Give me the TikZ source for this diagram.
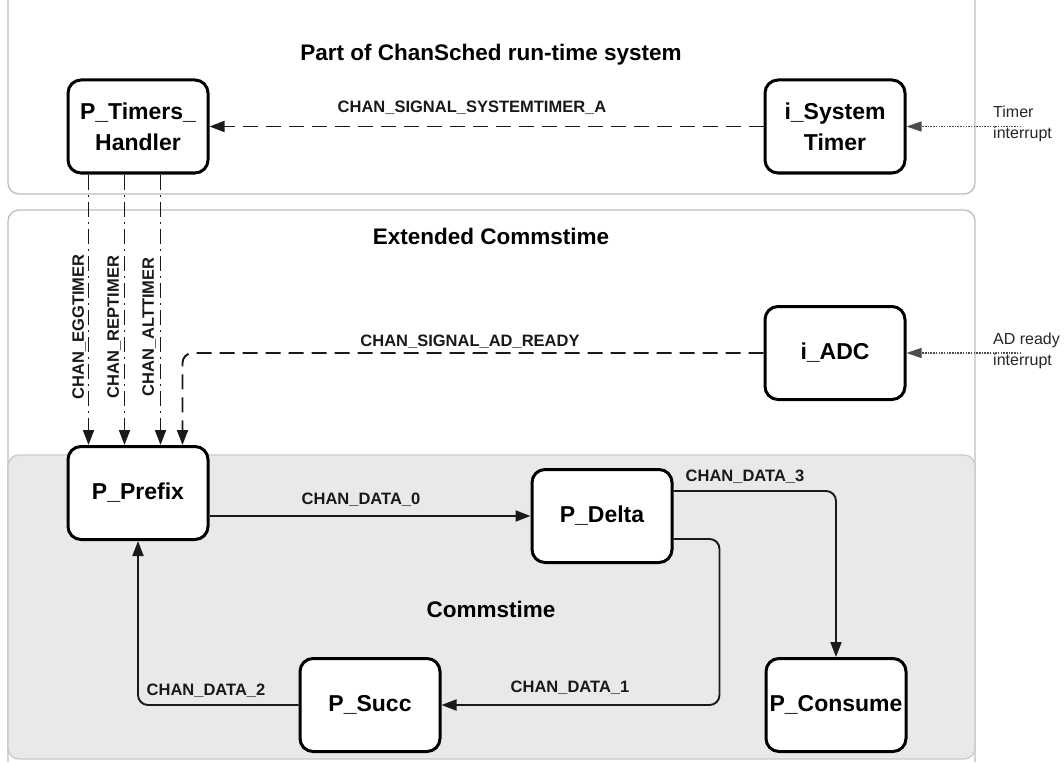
\documentclass[tikz,border=0pt]{standalone}
\usepackage{fontspec}
\setmainfont{Liberation Sans}
\usetikzlibrary{arrows.meta,calc}
\definecolor{panelline}{HTML}{BDBDBD}
\definecolor{panelfill}{HTML}{E9E9E9}
\definecolor{conn}{HTML}{1A1A1A}
\tikzset{
 proc/.style={draw=black, line width=3pt, rounded corners=13pt, fill=white, minimum width=140pt, minimum height=93pt, inner sep=0pt, align=center, font=\fontsize{23}{31}\selectfont\bfseries},
 title/.style={font=\fontsize{22.5}{27}\selectfont\bfseries, inner sep=0pt},
 chlabel/.style={font=\fontsize{16.5}{19}\selectfont\bfseries, inner sep=0pt, text=black!90},
 intlabel/.style={font=\fontsize{16}{21}\selectfont, align=left, anchor=west, inner sep=0pt, text=black!85},
 panel/.style={draw=panelline, line width=1.3pt, rounded corners=11pt},
 chan/.style={draw=conn, line width=1.9pt, rounded corners=10pt, -{Triangle[length=15pt,width=11pt]}},
 sigdash/.style={chan, dash pattern=on 15pt off 8pt},
 timerdash/.style={chan, dash pattern=on 15pt off 5pt on 2pt off 5pt},
 irq/.style={draw=black!70, line width=1.3pt, dash pattern=on 1.5pt off 1.2pt, -{Triangle[length=15pt,width=10pt]}},
}
\begin{document}
\begin{tikzpicture}[x=1pt,y=-1pt]
\useasboundingbox (0,0) rectangle (1064,762);
% panels
\draw[panel] (8,0) -- (8,194) -- (975,194) -- (975,0);
\draw[panel] (8,762) -- (8,210) -- (975,210) -- (975,762);
\draw[panel, fill=panelfill, draw=panelline!80] (8,455) rectangle (975,759);
% titles
\node[title] (t1) at (491,55) {Part of ChanSched run-time system};
\node[title] (t2) at (491,236) {Extended Commstime};
\node[title] (t3) at (491,609) {Commstime};
% processes
\node[proc] (ptimers) at (138,126.5) {P\_Timers\_\\Handler};
\node[proc] (isys) at (835,126.5) {i\_System\\Timer};
\node[proc] (iadc) at (835,353) {i\_ADC};
\node[proc] (pprefix) at (138,493) {P\_Prefix};
\node[proc] (pdelta) at (602,516) {P\_Delta};
\node[proc] (psucc) at (370,705) {P\_Succ};
\node[proc] (pconsume) at (836,705) {P\_Consume};
% interrupt sources
\coordinate (tirq) at (1021,126.5);
\coordinate (airq) at (1021,353);
\draw[irq] (tirq) -- (isys.east);
\draw[irq] (airq) -- (iadc.east);
\node[intlabel] (tl) at (993,124) {Timer\\interrupt};
\node[intlabel] (al) at (993,351) {AD ready\\interrupt};
% signal channels
\draw[sigdash] (isys.west) -- (ptimers.east);
\node[chlabel] (lsys) at (472,108) {CHAN\_SIGNAL\_SYSTEMTIMER\_A};
\draw[sigdash] (iadc.west) -| ($(pprefix.north west)+(116,0)$);
\node[chlabel] (ladc) at (470,342) {CHAN\_SIGNAL\_AD\_READY};
% timer channels
\draw[timerdash] ($(ptimers.south west)+(22,0)$) -- ($(pprefix.north west)+(22,0)$);
\draw[timerdash] ($(ptimers.south west)+(58,0)$) -- ($(pprefix.north west)+(58,0)$);
\draw[timerdash] ($(ptimers.south west)+(94,0)$) -- ($(pprefix.north west)+(94,0)$);
\node[chlabel, rotate=90] (legg) at (79,327) {CHAN\_EGGTIMER};
\node[chlabel, rotate=90] (lrep) at (114,327) {CHAN\_REPTIMER};
\node[chlabel, rotate=90] (lalt) at (149,327) {CHAN\_ALTTIMER};
% data channels
\draw[chan] (pprefix.east |- pdelta.west) -- (pdelta.west);
\node[chlabel] (l0) at (361,500) {CHAN\_DATA\_0};
\draw[chan] ($(pdelta.north east)+(0,23)$) -| (pconsume.north);
\node[chlabel] (l3) at (745,477) {CHAN\_DATA\_3};
\draw[chan] ($(pdelta.south east)+(0,-25)$) -| ($(psucc.east)+(278,0)$) -- (psucc.east);
\node[chlabel] (l1) at (570,688) {CHAN\_DATA\_1};
\draw[chan] (psucc.west) -| (pprefix.south);
\node[chlabel] (l2) at (206,691) {CHAN\_DATA\_2};
\end{tikzpicture}
\end{document}
